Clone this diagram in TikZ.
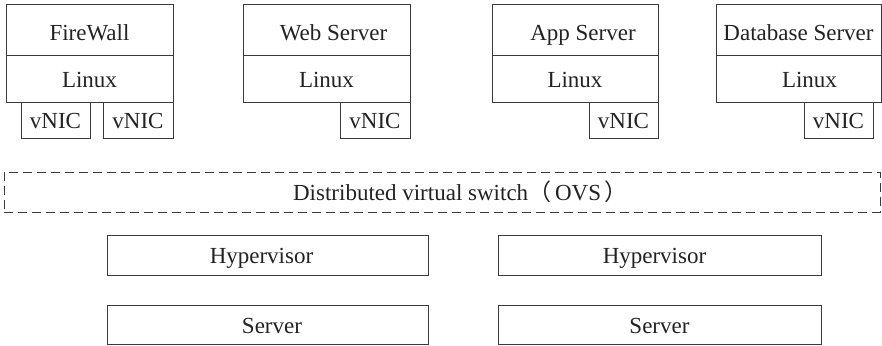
\documentclass[tikz,border=0pt]{standalone}
\usepackage{fontspec}
\setmainfont{Liberation Serif}
\newfontfamily\cjk{Noto Sans CJK SC}
\definecolor{lin}{HTML}{3A3A3A}
\definecolor{txt}{HTML}{222222}
\begin{document}
\begin{tikzpicture}[x=1pt,y=-1pt,
  boxst/.style={draw=lin, line width=1pt, rectangle, inner sep=0pt, outer sep=0pt,
    text=txt, font=\fontsize{23}{27}\selectfont, text height=19pt, text depth=2pt},
  appst/.style={boxst, text height=22pt, text depth=1pt},
  dashst/.style={boxst, dash pattern=on 9pt off 5pt}]
\useasboundingbox (0,0) rectangle (882,345);
% FireWall
\node[appst, minimum width=167pt, minimum height=50pt] (fwapp) at (89.5,30) {FireWall};
\node[boxst, minimum width=167pt, minimum height=47pt] (fwos) at (89.5,78.5) {Linux};
\node[boxst, minimum width=69pt, minimum height=36pt] (fwn1) at (55.5,120) {vNIC};
\node[boxst, minimum width=70pt, minimum height=36pt] (fwn2) at (138,120) {vNIC};
% Web Server
\node[appst, minimum width=167pt, minimum height=50pt] (webapp) at (326.5,30) {\hspace*{14pt}Web Server};
\node[boxst, minimum width=167pt, minimum height=47pt] (webos) at (326.5,78.5) {Linux};
\node[boxst, minimum width=70pt, minimum height=36pt] (webn) at (375,120) {vNIC};
% App Server
\node[appst, minimum width=166pt, minimum height=50pt] (appapp) at (575,30) {\hspace*{16pt}App Server};
\node[boxst, minimum width=166pt, minimum height=47pt] (appos) at (575,78.5) {Linux};
\node[boxst, minimum width=69pt, minimum height=36pt] (appn) at (623.5,120) {vNIC};
% Database Server
\node[appst, minimum width=165pt, minimum height=50pt] (dbapp) at (798.5,30) {Database Server};
\node[boxst, minimum width=165pt, minimum height=47pt] (dbos) at (798.5,78.5) {\hspace*{22pt}Linux};
\node[boxst, minimum width=69pt, minimum height=36pt] (dbn) at (838.5,120) {vNIC};
% Distributed virtual switch
\node[dashst, minimum width=876pt, minimum height=40pt] (ovs) at (442,192)
  {\hspace*{37pt}Distributed virtual switch{\cjk （}\,OVS\,{\cjk ）}};
% Hypervisors and servers
\node[boxst, minimum width=321pt, minimum height=40pt] (hyp1) at (267.5,255) {Hypervisor\hspace*{12pt}};
\node[boxst, minimum width=321pt, minimum height=39pt] (srv1) at (267.5,324.5) {\hspace*{9pt}Server};
\node[boxst, minimum width=323pt, minimum height=40pt] (hyp2) at (659.5,255) {Hypervisor\hspace*{10pt}};
\node[boxst, minimum width=323pt, minimum height=39pt] (srv2) at (659.5,324.5) {Server};
\end{tikzpicture}
\end{document}
